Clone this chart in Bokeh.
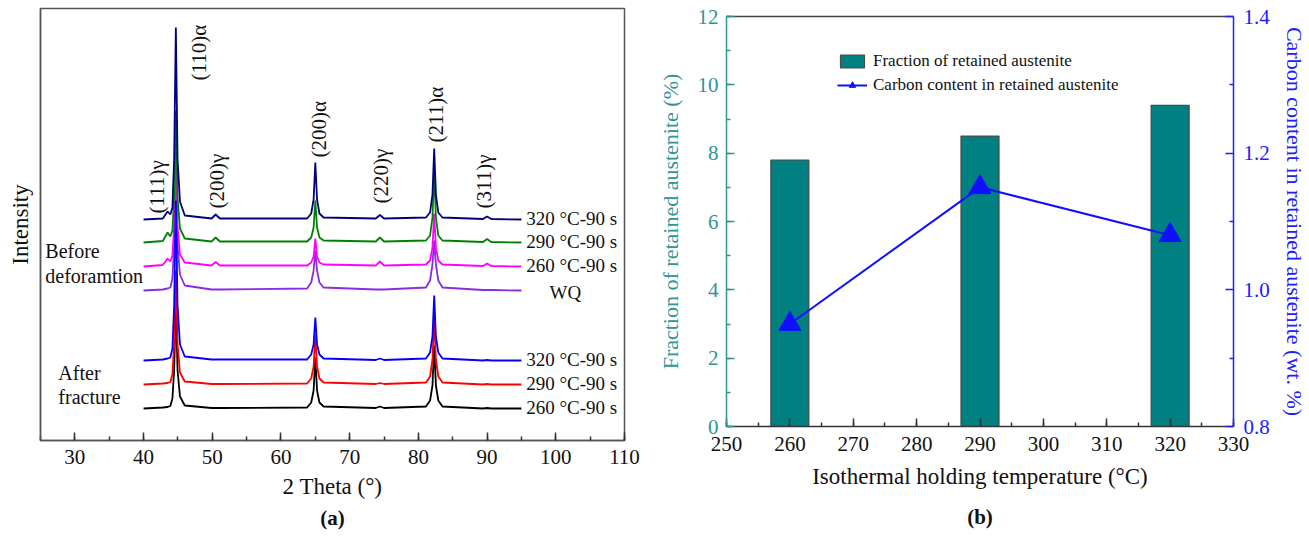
import math
from bokeh.plotting import figure
from bokeh.layouts import row, column
from bokeh.models import (Range1d, LinearAxis, SingleIntervalTicker, FixedTicker,
                          Label, Legend, LegendItem, NumeralTickFormatter, Title)
from bokeh.embed import file_html
from bokeh.resources import INLINE

# ---------------- data: XRD patterns (panel a) ----------------
two_theta = [40.0, 42.8, 43.5, 43.9, 44.2, 44.45, 44.7, 44.95, 45.3, 46.0,
             49.9, 50.5, 51.1, 63.8, 64.4, 64.75, 65.0, 65.25, 65.6, 66.2,
             73.8, 74.4, 75.0, 81.1, 81.7, 82.05, 82.3, 82.55, 82.9, 83.5,
             89.4, 90.0, 90.6, 95.0]

before_320 = [0, 1, 8, 5, 12, 60, 192, 60, 18, 4, 1, 5, 1, 1, 6, 20, 57, 20, 6, 2,
              1, 4.5, 1, 2, 7, 25, 71, 25, 7, 2, 0.5, 3, 0.5, 0]
before_290 = [0, 1.5, 10, 6, 12, 45, 132, 45, 14, 4, 1, 5, 1, 1, 5, 15, 42, 15, 5, 2,
              1, 5, 1, 2, 7, 25, 72, 25, 7, 2, 0.5, 3.5, 0.5, 0]
before_260 = [0, 1.5, 8, 5, 11, 40, 116, 40, 12, 4, 1, 4.5, 1, 1, 4, 10, 28, 10, 4, 2,
              1, 5, 1, 2, 6, 19, 53, 19, 6, 2, 0.5, 3, 0.5, 0]
before_wq = [0, 1, 2, 3, 12, 45, 110, 45, 16, 5, 1, 1, 1, 2, 8, 20, 40, 20, 8, 3,
             1, 1, 1, 3, 10, 26, 50, 26, 10, 3, 0.5, 0.5, 0.5, 0]
after_320 = [0, 1, 2, 3, 12, 55, 160, 55, 16, 4, 1, 1, 1, 1, 6, 16, 43, 16, 6, 2,
             0.5, 2, 0.5, 2, 8, 24, 65, 24, 8, 2, 0, 0.5, 0, 0]
after_290 = [0, 1, 1.5, 2.5, 10, 40, 114, 40, 12, 3, 0.5, 0.5, 0.5, 1, 6, 18, 50, 18, 6, 2,
             0.5, 1.5, 0.5, 2, 8, 25, 67, 25, 8, 2, 0, 0.5, 0, 0]
after_260 = [0, 1, 1.5, 2.5, 10, 38, 105, 38, 12, 3, 0.5, 0.5, 0.5, 1, 6, 18, 51, 18, 6, 2,
             0.5, 2, 0.5, 2, 8, 23, 63, 23, 8, 2, 0, 0.5, 0, 0]

pattern_names = ["320 °C-90 s", "290 °C-90 s", "260 °C-90 s", "WQ",
                 "320 °C-90 s", "290 °C-90 s", "260 °C-90 s"]
pattern_values = [before_320, before_290, before_260, before_wq,
                  after_320, after_290, after_260]
stack_offsets = [221, 198, 174, 150, 80, 56, 32]

peak_names = ["(111)γ", "(110)α", "(200)γ", "(200)α", "(220)γ", "(211)α", "(311)γ"]

# ---------------- data: retained austenite (panel b) ----------------
hold_temp = [260, 290, 320]
ra_fraction = [7.8, 8.5, 9.4]
ra_carbon = [0.95, 1.15, 1.08]
carbon_ticks = [0.8, 1.0, 1.2, 1.4]
carbon_minor = [0.9, 1.1, 1.3]

SERIF = "Liberation Serif"
FRAME = "#555555"

# ================= panel (a) =================
pa = figure(width=640, height=540, x_range=Range1d(25, 110), y_range=Range1d(0, 432),
            output_backend="svg", toolbar_location=None,
            min_border_left=40, min_border_right=16, min_border_top=8, min_border_bottom=100)
pa.grid.visible = False
pa.outline_line_color = FRAME
pa.outline_line_width = 1.5

xa = pa.xaxis[0]
xa.ticker = SingleIntervalTicker(interval=10, num_minor_ticks=2)
xa.major_tick_in = 8
xa.major_tick_out = 0
xa.minor_tick_in = 4
xa.minor_tick_out = 0
xa.axis_line_color = FRAME
xa.axis_line_width = 1.5
xa.major_tick_line_color = "#333333"
xa.minor_tick_line_color = "#333333"
xa.major_tick_line_width = 1.5
xa.minor_tick_line_width = 1.5
xa.major_label_text_font = SERIF
xa.major_label_text_font_size = "21px"
xa.major_label_text_color = "#111111"
xa.major_label_standoff = 9
xa.axis_label = "2 Theta (°)"
xa.axis_label_text_font = SERIF
xa.axis_label_text_font_size = "23px"
xa.axis_label_text_font_style = "normal"
xa.axis_label_text_color = "#111111"
xa.axis_label_standoff = 7

ya = pa.yaxis[0]
ya.ticker = FixedTicker(ticks=[])
ya.major_tick_in = 0
ya.major_tick_out = 0
ya.minor_tick_in = 0
ya.minor_tick_out = 0
ya.axis_line_color = FRAME
ya.axis_line_width = 1.5
ya.axis_label = "Intensity"
ya.axis_label_text_font = SERIF
ya.axis_label_text_font_size = "23px"
ya.axis_label_text_font_style = "normal"
ya.axis_label_text_color = "#111111"
ya.axis_label_standoff = 8

colors = ["#000080", "#008000", "#ff00ff", "#8a2be2", "#0000ff", "#ff0000", "#000000"]
draw_order = [3, 2, 1, 0, 6, 5, 4]
for i in draw_order:
    ys = [v + stack_offsets[i] for v in pattern_values[i]]
    pa.line(two_theta, ys, line_color=colors[i], line_width=1.8)

# curve names at the right end of each pattern
for i, name in enumerate(pattern_names):
    if name == "WQ":
        pa.add_layout(Label(x=101.4, y=stack_offsets[i] - 2, text=name, text_font=SERIF,
                            text_font_size="19px", text_align="center",
                            text_baseline="middle", text_color="#111111"))
    else:
        pa.add_layout(Label(x=95.7, y=stack_offsets[i] + 1, text=name, text_font=SERIF,
                            text_font_size="19px", text_align="left",
                            text_baseline="middle", text_color="#111111"))

# peak indices, written vertically
peak_x = [42.0, 48.1, 50.7, 65.6, 74.6, 82.6, 89.6]
peak_y = [227, 360, 232, 283, 237, 298, 232]
for name, px, py in zip(peak_names, peak_x, peak_y):
    pa.add_layout(Label(x=px, y=py, text=name, angle=math.pi / 2, text_font=SERIF,
                        text_font_size="21px", text_align="left", text_baseline="middle",
                        text_color="#111111"))

for txt, tx, ty in [("Before", 25.7, 190), ("deforamtion", 25.7, 165),
                    ("After", 27.6, 68), ("fracture", 27.6, 44)]:
    pa.add_layout(Label(x=tx, y=ty, text=txt, text_font=SERIF, text_font_size="20px",
                        text_align="left", text_baseline="middle", text_color="#111111"))

pa.add_layout(Title(text="(a)", align="center", text_font=SERIF, text_font_size="21px",
                    text_font_style="bold", text_color="#111111", standoff=5), "below")

# ================= panel (b) =================
TEAL_AX = "#2f9595"
BLUE_AX = "#2020ff"

pb = figure(width=669, height=540, x_range=Range1d(250, 330), y_range=Range1d(0, 12),
            output_backend="svg", toolbar_location=None,
            min_border_left=86, min_border_right=75, min_border_top=16, min_border_bottom=113)
pb.grid.visible = False
pb.outline_line_color = None
pb.extra_y_ranges = {"carbon": Range1d(0.8, 1.4)}

xb = pb.xaxis[0]
xb.ticker = SingleIntervalTicker(interval=10, num_minor_ticks=2)
xb.major_tick_in = 8
xb.major_tick_out = 0
xb.minor_tick_in = 4
xb.minor_tick_out = 0
xb.axis_line_color = "#333333"
xb.axis_line_width = 1.5
xb.major_tick_line_color = "#333333"
xb.minor_tick_line_color = "#333333"
xb.major_tick_line_width = 1.5
xb.minor_tick_line_width = 1.5
xb.major_label_text_font = SERIF
xb.major_label_text_font_size = "21px"
xb.major_label_text_color = "#111111"
xb.major_label_standoff = 10
xb.axis_label = "Isothermal holding temperature (°C)"
xb.axis_label_text_font = SERIF
xb.axis_label_text_font_size = "23px"
xb.axis_label_text_font_style = "normal"
xb.axis_label_text_color = "#111111"
xb.axis_label_standoff = 10

yb = pb.yaxis[0]
yb.ticker = SingleIntervalTicker(interval=2, num_minor_ticks=2)
yb.major_tick_in = 8
yb.major_tick_out = 0
yb.minor_tick_in = 4
yb.minor_tick_out = 0
yb.axis_line_color = TEAL_AX
yb.axis_line_width = 1.5
yb.major_tick_line_color = TEAL_AX
yb.minor_tick_line_color = TEAL_AX
yb.major_tick_line_width = 1.5
yb.minor_tick_line_width = 1.5
yb.major_label_text_font = SERIF
yb.major_label_text_font_size = "21px"
yb.major_label_text_color = TEAL_AX
yb.major_label_standoff = 8
yb.axis_label = "Fraction of retained austenite (%)"
yb.axis_label_text_font = SERIF
yb.axis_label_text_font_size = "22px"
yb.axis_label_text_font_style = "normal"
yb.axis_label_text_color = TEAL_AX
yb.axis_label_standoff = 12

yr = LinearAxis(y_range_name="carbon",
                ticker=FixedTicker(ticks=carbon_ticks, minor_ticks=carbon_minor),
                formatter=NumeralTickFormatter(format="0.0"))
yr.major_tick_in = 8
yr.major_tick_out = 0
yr.minor_tick_in = 4
yr.minor_tick_out = 0
yr.axis_line_color = BLUE_AX
yr.axis_line_width = 1.5
yr.major_tick_line_color = BLUE_AX
yr.minor_tick_line_color = BLUE_AX
yr.major_tick_line_width = 1.5
yr.minor_tick_line_width = 1.5
yr.major_label_text_font = SERIF
yr.major_label_text_font_size = "21px"
yr.major_label_text_color = BLUE_AX
yr.major_label_standoff = 10
yr.axis_label = "Carbon content in retained austenite (wt. %)"
yr.axis_label_text_font = SERIF
yr.axis_label_text_font_size = "22px"
yr.axis_label_text_font_style = "normal"
yr.axis_label_text_color = BLUE_AX
yr.axis_label_standoff = 9
pb.add_layout(yr, "right")

top_border = LinearAxis(ticker=FixedTicker(ticks=[]), axis_line_color="#444444",
                        axis_line_width=1.5, major_tick_in=0, major_tick_out=0,
                        minor_tick_in=0, minor_tick_out=0)
pb.add_layout(top_border, "above")

bars = pb.vbar(x=hold_temp, top=ra_fraction, width=6, bottom=0,
               fill_color="#008080", line_color="#4a4a4a", line_width=1.2)
cline = pb.line(hold_temp, ra_carbon, y_range_name="carbon",
                line_color="#1010ff", line_width=2)
cmark = pb.scatter(hold_temp, ra_carbon, y_range_name="carbon", marker="triangle",
                   size=22, fill_color="#1010ff", line_color="#1010ff")

legend = Legend(items=[LegendItem(label="Fraction of retained austenite", renderers=[bars]),
                       LegendItem(label="Carbon content in retained austenite",
                                  renderers=[cline, cmark])],
                location=(111, 331), orientation="vertical",
                glyph_width=30, glyph_height=16, label_standoff=6, spacing=4,
                padding=0, margin=0, border_line_color=None,
                background_fill_alpha=0, label_text_font=SERIF,
                label_text_font_size="17px", label_text_color="#111111",
                label_height=18)
pb.add_layout(legend)

pb.add_layout(Title(text="(b)", align="center", text_font=SERIF, text_font_size="21px",
                    text_font_style="bold", text_color="#111111", standoff=23), "below")

page = row(column(pa), column(pb))
open("out.html", "w").write(file_html(page, INLINE))
